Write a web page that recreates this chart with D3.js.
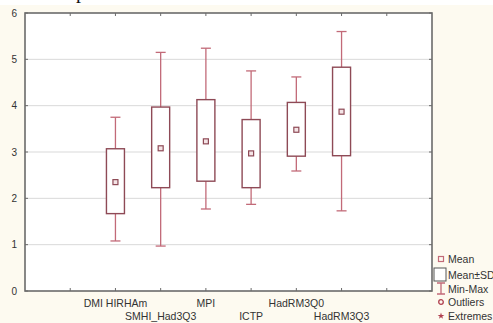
<!DOCTYPE html>
<html>
<head>
<meta charset="utf-8">
<script src="https://cdn.jsdelivr.net/npm/d3@7"></script>
<style>
  body { margin: 0; background: #fdfaf0; }
  svg { display: block; font-family: "Liberation Sans", Arial, sans-serif; }
</style>
</head>
<body>
<div id="chart"></div>
<script>
// data (first and last slot are empty)
var categories = ["", "DMI HIRHAm", "SMHI_Had3Q3", "MPI", "ICTP", "HadRM3Q0", "HadRM3Q3", ""];
var minVals  = [null, 1.08, 0.97, 1.77, 1.87, 2.59, 1.73, null];
var sdLow    = [null, 1.67, 2.23, 2.37, 2.23, 2.91, 2.92, null];
var means    = [null, 2.35, 3.08, 3.23, 2.97, 3.48, 3.87, null];
var sdHigh   = [null, 3.07, 3.97, 4.13, 3.70, 4.07, 4.83, null];
var maxVals  = [null, 3.75, 5.15, 5.24, 4.75, 4.62, 5.60, null];
var yTicks = [0, 1, 2, 3, 4, 5, 6];
var legendItems = ["Mean", "Mean\u00b1SD", "Min-Max", "Outliers", "Extremes"];

var svgWidth = 493, svgHeight = 323;
var margin = {top: 13, right: 61, bottom: 32, left: 25};
var width = svgWidth - margin.left - margin.right;
var height = svgHeight - margin.top - margin.bottom;

var boxColor = "#8e4a56";
var whiskColor = "#c26a78";

var svg = d3.select("#chart").append("svg")
  .attr("width", svgWidth)
  .attr("height", svgHeight);

// white strip at the very top and a cropped title fragment
svg.append("rect").attr("x", 0).attr("y", 0).attr("width", svgWidth).attr("height", 5).attr("fill", "#ffffff");
svg.append("text").attr("x", 76).attr("y", -2)
  .attr("font-family", "Liberation Serif, serif").attr("font-size", 20).attr("fill", "#111")
  .text("p");

var chart = svg.append("g").attr("transform", `translate(${margin.left},${margin.top})`);

var xScale = d3.scalePoint().domain(d3.range(categories.length)).range([0, width]).padding(1);
var yScale = d3.scaleLinear().domain([0, 6]).range([height, 0]);

// plot background
chart.append("rect").attr("width", width).attr("height", height).attr("fill", "#ffffff");

// gridlines
chart.selectAll(".grid").data(yTicks.slice(1, -1)).enter().append("line")
  .attr("x1", 0).attr("x2", width)
  .attr("y1", d => yScale(d)).attr("y2", d => yScale(d))
  .attr("stroke", "#d9d9d9").attr("stroke-width", 1);

// axes (ticks inside)
var yAxis = d3.axisLeft(yScale).tickValues(yTicks).tickFormat(d3.format("d")).tickSize(0).tickPadding(8);
var gy = chart.append("g").call(yAxis);
gy.select(".domain").remove();
gy.selectAll("text").attr("font-size", 10).attr("fill", "#333");

var frame = chart.append("g");
frame.append("rect").attr("width", width).attr("height", height)
  .attr("fill", "none").attr("stroke", "#6b6b6b").attr("stroke-width", 1.6);

var tickIdx = d3.range(categories.length);
frame.selectAll(".tt").data(tickIdx).enter().append("line")
  .attr("x1", d => xScale(d)).attr("x2", d => xScale(d))
  .attr("y1", 0).attr("y2", 3).attr("stroke", "#6b6b6b");
frame.selectAll(".tb").data(tickIdx).enter().append("line")
  .attr("x1", d => xScale(d)).attr("x2", d => xScale(d))
  .attr("y1", height).attr("y2", height - 3).attr("stroke", "#6b6b6b");
frame.selectAll(".tl").data(yTicks).enter().append("line")
  .attr("x1", 0).attr("x2", 3)
  .attr("y1", d => yScale(d)).attr("y2", d => yScale(d)).attr("stroke", "#6b6b6b");
frame.selectAll(".tr").data(yTicks).enter().append("line")
  .attr("x1", width).attr("x2", width - 3)
  .attr("y1", d => yScale(d)).attr("y2", d => yScale(d)).attr("stroke", "#6b6b6b");

// category labels, staggered on two rows
chart.selectAll(".cat").data(tickIdx.filter(i => categories[i] !== "")).enter().append("text")
  .attr("x", d => xScale(d))
  .attr("y", (d, i) => height + (i % 2 === 0 ? 16 : 29))
  .attr("text-anchor", "middle")
  .attr("font-size", 10.5).attr("fill", "#333")
  .text(d => categories[d]);

// boxes
var boxData = tickIdx.filter(i => means[i] !== null);
var bw = 18, cap = 10;

var boxes = chart.selectAll(".box").data(boxData).enter().append("g");

boxes.append("line")
  .attr("x1", d => xScale(d)).attr("x2", d => xScale(d))
  .attr("y1", d => yScale(minVals[d])).attr("y2", d => yScale(maxVals[d]))
  .attr("stroke", whiskColor).attr("stroke-width", 1.3);
boxes.append("line")
  .attr("x1", d => xScale(d) - cap / 2).attr("x2", d => xScale(d) + cap / 2)
  .attr("y1", d => yScale(minVals[d])).attr("y2", d => yScale(minVals[d]))
  .attr("stroke", whiskColor).attr("stroke-width", 1.3);
boxes.append("line")
  .attr("x1", d => xScale(d) - cap / 2).attr("x2", d => xScale(d) + cap / 2)
  .attr("y1", d => yScale(maxVals[d])).attr("y2", d => yScale(maxVals[d]))
  .attr("stroke", whiskColor).attr("stroke-width", 1.3);
boxes.append("rect")
  .attr("x", d => xScale(d) - bw / 2)
  .attr("y", d => yScale(sdHigh[d]))
  .attr("width", bw)
  .attr("height", d => yScale(sdLow[d]) - yScale(sdHigh[d]))
  .attr("fill", "#ffffff").attr("stroke", boxColor).attr("stroke-width", 1.4);
boxes.append("rect")
  .attr("x", d => xScale(d) - 2.5)
  .attr("y", d => yScale(means[d]) - 2.5)
  .attr("width", 5).attr("height", 5)
  .attr("fill", "#f4e4e6").attr("stroke", boxColor).attr("stroke-width", 1.2);

// legend
var lg = svg.append("g").attr("transform", "translate(441,0)");
var ly = [259, 275, 289, 302, 316];
lg.append("rect").attr("x", -2.5).attr("y", ly[0] - 2.5).attr("width", 5).attr("height", 5)
  .attr("fill", "none").attr("stroke", whiskColor).attr("stroke-width", 1.2);
lg.append("rect").attr("x", -7).attr("y", ly[1] - 7).attr("width", 12).attr("height", 13)
  .attr("fill", "#fff").attr("stroke", "#555").attr("stroke-width", 1);
lg.append("path").attr("d", `M-4,${ly[2] - 6}H4M0,${ly[2] - 6}V${ly[2] + 5}M-4,${ly[2] + 5}H4`)
  .attr("fill", "none").attr("stroke", whiskColor).attr("stroke-width", 1.3);
lg.append("circle").attr("cx", 0).attr("cy", ly[3]).attr("r", 2.3)
  .attr("fill", "none").attr("stroke", "#b0404f").attr("stroke-width", 1.3);
lg.append("path").attr("d", d3.symbol().type(d3.symbolStar).size(14)()).attr("transform", `translate(0,${ly[4]})`)
  .attr("fill", "#b0404f");
lg.selectAll(".lt").data(legendItems).enter().append("text")
  .attr("x", 7).attr("y", (d, i) => ly[i] + 4)
  .attr("font-size", 10.5).attr("fill", "#333")
  .text(d => d);
</script>
</body>
</html>
